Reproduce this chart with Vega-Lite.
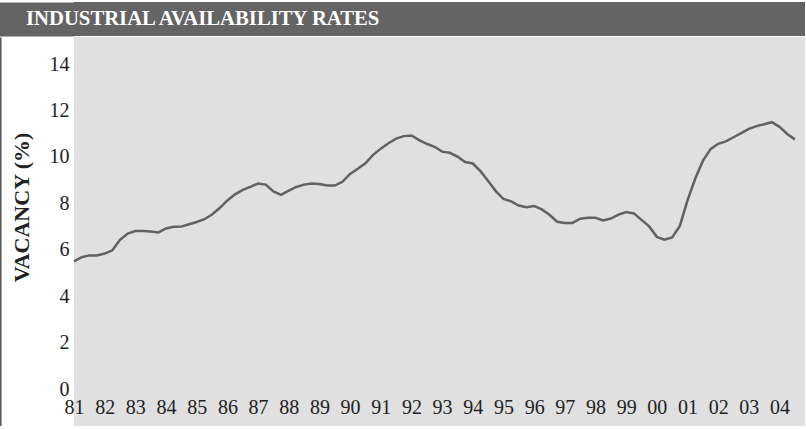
{
  "$schema": "https://vega.github.io/schema/vega-lite/v6.json",
  "padding": {"left": 0, "top": 2, "right": 0, "bottom": 0},
  "autosize": {"type": "pad"},
  "background": "white",
  "spacing": 1,
  "bounds": "full",
  "config": {"view": {"stroke": null}, "font": "Liberation Serif"},
  "vconcat": [
    {
      "width": 731,
      "height": 34,
      "view": {"fill": "#646464", "stroke": null},
      "data": {"values": [{"label": "INDUSTRIAL AVAILABILITY RATES"}]},
      "mark": {"type": "text", "align": "left", "baseline": "middle", "font": "Liberation Serif", "fontWeight": "bold", "fontSize": 20.7, "color": "white"},
      "encoding": {
        "text": {"field": "label"},
        "x": {"value": -48},
        "y": {
          "field": "label",
          "type": "nominal",
          "axis": {"title": null, "labels": false, "ticks": false, "grid": false, "domain": true, "domainColor": "#646464", "domainWidth": 75, "domainCap": "butt", "offset": 37.5}
        }
      }
    },
    {
      "width": 731,
      "height": 389,
      "view": {"fill": "#e0e0e0", "stroke": null},
      "data": {"values": [
        {"t": 1981.00, "v": 5.50}, {"t": 1981.25, "v": 5.68}, {"t": 1981.50, "v": 5.76}, {"t": 1981.75, "v": 5.76},
        {"t": 1982.00, "v": 5.84}, {"t": 1982.25, "v": 5.98}, {"t": 1982.50, "v": 6.43}, {"t": 1982.75, "v": 6.70},
        {"t": 1983.00, "v": 6.81}, {"t": 1983.25, "v": 6.81}, {"t": 1983.50, "v": 6.79}, {"t": 1983.75, "v": 6.75},
        {"t": 1984.00, "v": 6.92}, {"t": 1984.25, "v": 6.99}, {"t": 1984.50, "v": 7.00}, {"t": 1984.75, "v": 7.10},
        {"t": 1985.00, "v": 7.20}, {"t": 1985.25, "v": 7.32}, {"t": 1985.50, "v": 7.52}, {"t": 1985.75, "v": 7.80},
        {"t": 1986.00, "v": 8.13}, {"t": 1986.25, "v": 8.39}, {"t": 1986.50, "v": 8.58}, {"t": 1986.75, "v": 8.71},
        {"t": 1987.00, "v": 8.86}, {"t": 1987.25, "v": 8.81}, {"t": 1987.50, "v": 8.52}, {"t": 1987.75, "v": 8.37},
        {"t": 1988.00, "v": 8.55}, {"t": 1988.25, "v": 8.71}, {"t": 1988.50, "v": 8.81}, {"t": 1988.75, "v": 8.86},
        {"t": 1989.00, "v": 8.84}, {"t": 1989.25, "v": 8.77}, {"t": 1989.50, "v": 8.77}, {"t": 1989.75, "v": 8.93},
        {"t": 1990.00, "v": 9.27}, {"t": 1990.25, "v": 9.49}, {"t": 1990.50, "v": 9.73}, {"t": 1990.75, "v": 10.09},
        {"t": 1991.00, "v": 10.36}, {"t": 1991.25, "v": 10.59}, {"t": 1991.50, "v": 10.79}, {"t": 1991.75, "v": 10.90},
        {"t": 1992.00, "v": 10.93}, {"t": 1992.25, "v": 10.73}, {"t": 1992.50, "v": 10.57}, {"t": 1992.75, "v": 10.44},
        {"t": 1993.00, "v": 10.23}, {"t": 1993.25, "v": 10.18}, {"t": 1993.50, "v": 10.02}, {"t": 1993.75, "v": 9.78},
        {"t": 1994.00, "v": 9.72}, {"t": 1994.25, "v": 9.39}, {"t": 1994.50, "v": 8.97}, {"t": 1994.75, "v": 8.53},
        {"t": 1995.00, "v": 8.19}, {"t": 1995.25, "v": 8.09}, {"t": 1995.50, "v": 7.91}, {"t": 1995.75, "v": 7.84},
        {"t": 1996.00, "v": 7.89}, {"t": 1996.25, "v": 7.74}, {"t": 1996.50, "v": 7.51}, {"t": 1996.75, "v": 7.21},
        {"t": 1997.00, "v": 7.16}, {"t": 1997.25, "v": 7.16}, {"t": 1997.50, "v": 7.34}, {"t": 1997.75, "v": 7.38},
        {"t": 1998.00, "v": 7.38}, {"t": 1998.25, "v": 7.27}, {"t": 1998.50, "v": 7.35}, {"t": 1998.75, "v": 7.52},
        {"t": 1999.00, "v": 7.63}, {"t": 1999.25, "v": 7.57}, {"t": 1999.50, "v": 7.29}, {"t": 1999.75, "v": 7.01},
        {"t": 2000.00, "v": 6.56}, {"t": 2000.25, "v": 6.44}, {"t": 2000.50, "v": 6.53}, {"t": 2000.75, "v": 7.03},
        {"t": 2001.00, "v": 8.13}, {"t": 2001.25, "v": 9.06}, {"t": 2001.50, "v": 9.83}, {"t": 2001.75, "v": 10.34},
        {"t": 2002.00, "v": 10.57}, {"t": 2002.25, "v": 10.67}, {"t": 2002.50, "v": 10.85}, {"t": 2002.75, "v": 11.03},
        {"t": 2003.00, "v": 11.21}, {"t": 2003.25, "v": 11.33}, {"t": 2003.50, "v": 11.41}, {"t": 2003.75, "v": 11.50},
        {"t": 2004.00, "v": 11.30}, {"t": 2004.25, "v": 10.99}, {"t": 2004.50, "v": 10.76}
      ]},
      "mark": {"type": "line", "color": "#616161", "strokeWidth": 2.5},
      "encoding": {
        "x": {
          "field": "t",
          "type": "quantitative",
          "scale": {"domain": [1981, 2004.83], "nice": false, "zero": false},
          "axis": {
            "title": null,
            "values": [1981, 1982, 1983, 1984, 1985, 1986, 1987, 1988, 1989, 1990, 1991, 1992, 1993, 1994, 1995, 1996, 1997, 1998, 1999, 2000, 2001, 2002, 2003, 2004],
            "labelExpr": "slice(toString(datum.value), 2)",
            "domain": false,
            "ticks": false,
            "tickSize": 0,
            "grid": false,
            "offset": -19,
            "labelPadding": 0,
            "labelBaseline": "middle",
            "labelFont": "Liberation Serif",
            "labelFontSize": 20,
            "labelColor": "#222222",
            "labelOverlap": false,
            "labelFlush": false
          }
        },
        "y": {
          "field": "v",
          "type": "quantitative",
          "scale": {"domain": [-1.59, 15.17], "nice": false, "zero": false},
          "axis": {
            "title": "VACANCY (%)",
            "values": [0, 2, 4, 6, 8, 10, 12, 14],
            "offset": 74,
            "domain": true,
            "domainColor": "#555555",
            "domainWidth": 2,
            "ticks": false,
            "tickSize": 0,
            "grid": false,
            "labelPadding": -69,
            "labelAlign": "right",
            "labelBaseline": "middle",
            "labelFont": "Liberation Serif",
            "labelFontSize": 20,
            "labelColor": "#222222",
            "labelOverlap": false,
            "labelFlush": false,
            "titleFont": "Liberation Serif",
            "titleFontSize": 22,
            "titleFontWeight": "bold",
            "titleColor": "#222222",
            "titleAngle": -90,
            "titleAlign": "center",
            "titleBaseline": "middle",
            "titleX": 21,
            "titleY": 170
          }
        }
      }
    }
  ]
}
